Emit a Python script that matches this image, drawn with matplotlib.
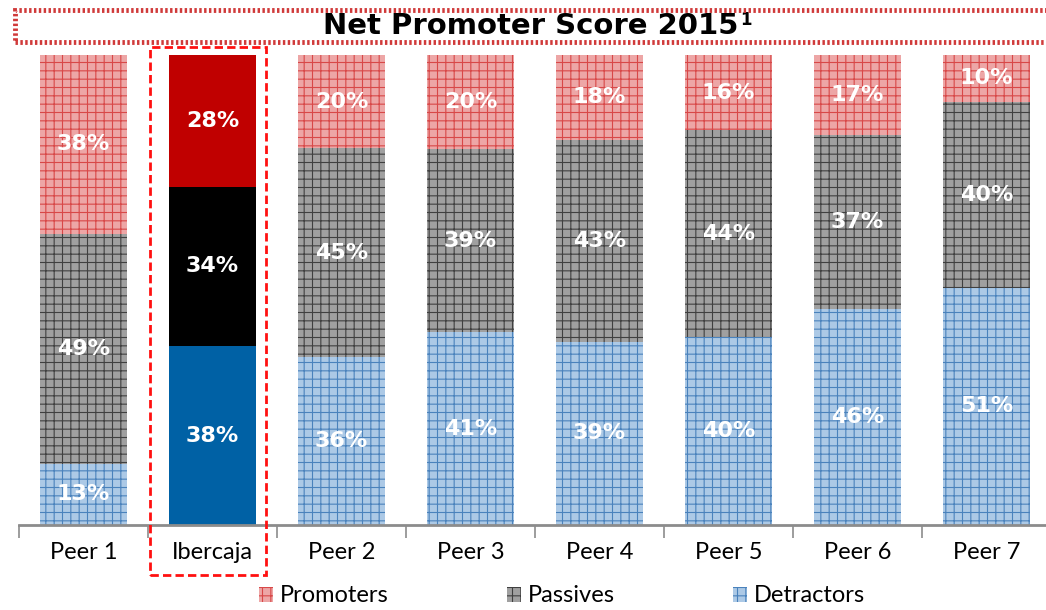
import numpy as np
import matplotlib.pyplot as plt
from matplotlib.patches import Rectangle, Patch

plt.rcParams['font.family'] = ['Lato', 'DejaVu Sans']
plt.rcParams['hatch.linewidth'] = 0.8

categories = ['Peer 1', 'Ibercaja', 'Peer 2', 'Peer 3', 'Peer 4', 'Peer 5', 'Peer 6', 'Peer 7']
detractors = [13, 38, 36, 41, 39, 40, 46, 51]
passives = [49, 34, 45, 39, 43, 44, 37, 40]
promoters = [38, 28, 20, 20, 18, 16, 17, 10]

det = np.array(detractors, float)
pas = np.array(passives, float)
pro = np.array(promoters, float)
total = det + pas + pro
# stacked to 100%
det_h = det / total * 100
pas_h = pas / total * 100
pro_h = pro / total * 100

W, H = 1046, 610
fig = plt.figure(figsize=(W / 100, H / 100), dpi=100)
ax = fig.add_axes([19 / W, 1 - 525 / H, 1032 / W, 470 / H])

x = np.arange(len(categories))
bw = 0.67
hl = 1  # Ibercaja highlighted

styles = {
    'det': dict(face='#ACC9E6', edge='#4A82BC', solid='#0061A5'),
    'pas': dict(face='#A0A0A0', edge='#404040', solid='#000000'),
    'pro': dict(face='#EDA6A6', edge='#D84848', solid='#C00000'),
}

segs = [('det', det_h, det), ('pas', pas_h, pas), ('pro', pro_h, pro)]
bottom = np.zeros(len(categories))
for key, h, vals in segs:
    st = styles[key]
    for i in range(len(categories)):
        if i == hl:
            ax.bar(x[i], h[i], bw, bottom=bottom[i], color=st['solid'], linewidth=0)
        else:
            ax.bar(x[i], h[i], bw, bottom=bottom[i], facecolor=st['face'],
                   edgecolor=st['edge'], hatch='++', linewidth=0)
        ax.text(x[i], bottom[i] + h[i] / 2, f'{int(vals[i])}%', ha='center', va='center',
                color='white', fontsize=16, fontweight='bold', family='DejaVu Sans')
    bottom += h

ax.set_xlim(-0.5, len(categories) - 0.5)
ax.set_ylim(0, 100)
for s in ['top', 'right', 'left']:
    ax.spines[s].set_visible(False)
ax.spines['bottom'].set_color('#8C8C8C')
ax.spines['bottom'].set_linewidth(2)
ax.set_yticks([])
ax.set_xticks(x)
ax.set_xticklabels(categories, fontsize=17)
ax.tick_params(axis='x', which='major', length=0, pad=12)
ax.set_xticks(np.arange(len(categories) + 1) - 0.5, minor=True)
ax.tick_params(axis='x', which='minor', length=9, width=1.2, color='#8C8C8C')

# title with dotted frame
fig.patches.append(Rectangle((15 / W, 1 - 42 / H), 1040 / W, 32 / H, transform=fig.transFigure,
                             fill=False, edgecolor='#D03A3A', linewidth=3.5, linestyle=(0, (0.5, 0.5))))
title = fig.text(531 / W, 1 - 26 / H, 'Net Promoter Score 2015', ha='center', va='center',
                 fontsize=21, fontweight='bold', family='DejaVu Sans')
ax.annotate('1', xy=(1, 0.4), xycoords=title, xytext=(1, 0), textcoords='offset points',
            ha='left', va='bottom', fontsize=12, fontweight='bold', family='DejaVu Sans',
            annotation_clip=False)

# dashed highlight box around Ibercaja
fig.patches.append(Rectangle((150 / W, 1 - 575 / H), 116 / W, 528 / H, transform=fig.transFigure,
                             fill=False, edgecolor='#FF1010', linewidth=2, linestyle=(0, (3, 1.5))))

handles = [Patch(facecolor=styles[k]['face'], edgecolor=styles[k]['edge'], hatch='++', linewidth=0)
           for k in ['pro', 'pas', 'det']]
fig.legend(handles, ['Promoters', 'Passives', 'Detractors'], loc='center', ncol=3,
           bbox_to_anchor=(562 / W, 1 - 596 / H), frameon=False, fontsize=17,
           handlelength=0.6, handleheight=0.6, handletextpad=0.3, columnspacing=5)

fig.savefig('out.png', dpi=100)
